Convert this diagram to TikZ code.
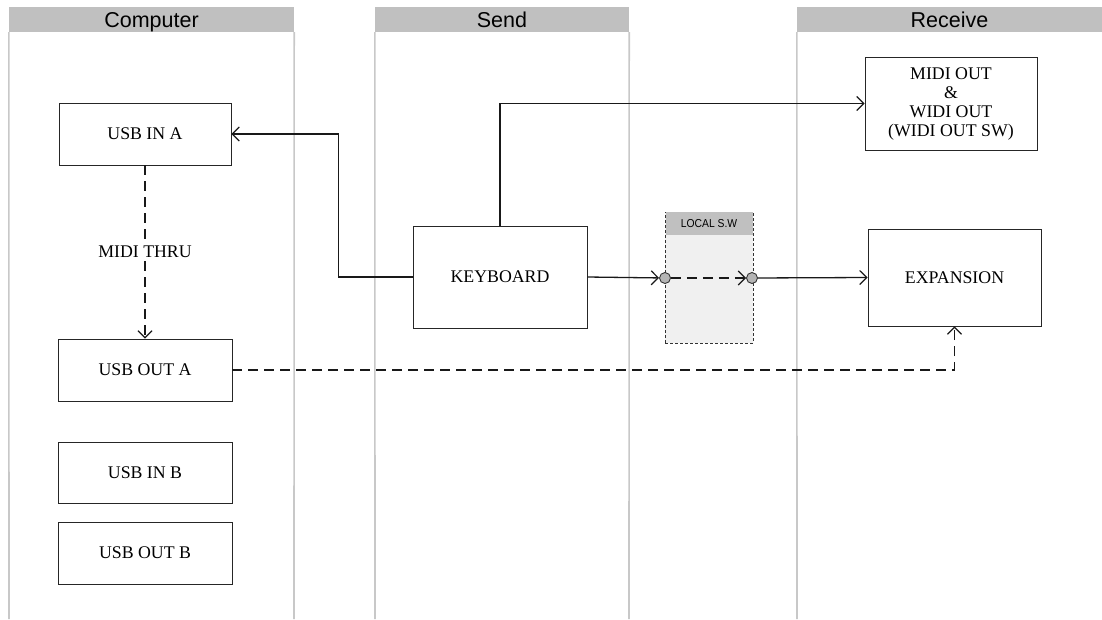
\documentclass[tikz,border=0pt]{standalone}
\usepackage{fontspec}
\setmainfont{Liberation Serif}
\newfontfamily\hdrfont{Liberation Sans}
\usetikzlibrary{arrows.meta}
\definecolor{lanegray}{HTML}{C8C8C8}
\definecolor{hdrgray}{HTML}{C0C0C0}
\definecolor{swfill}{HTML}{F0F0F0}
\definecolor{dotfill}{HTML}{B4B4B4}
\tikzset{
  lanehdr/.style={fill=hdrgray, draw=none, minimum height=25pt, inner sep=0pt,
    text height=16pt, text depth=1pt,
    font=\hdrfont\fontsize{21.5}{22}\selectfont, text=black},
  laneline/.style={draw=lanegray, line width=1.6pt},
  blockbox/.style={draw=black!85, line width=0.9pt, fill=white, inner sep=2pt,
    font=\fontsize{17.8}{19}\selectfont, align=center},
  conn/.style={draw=black!90, line width=1.3pt, -{Straight Barb[length=7pt,width=14pt,line width=1.2pt]}},
  dashline/.style={dash pattern=on 10pt off 6pt},
  dot/.style={circle, draw=black!80, fill=dotfill, line width=0.9pt, minimum size=11pt, inner sep=0pt},
}
\begin{document}
\begin{tikzpicture}[x=1pt,y=-1pt]
\useasboundingbox (0,0) rectangle (1102,619);
% lanes
\node[lanehdr, minimum width=285pt] (hcomp) at (151.5,19.5) {Computer};
\node[lanehdr, minimum width=254pt] (hsend) at (502,19.5) {Send};
\node[lanehdr, minimum width=305pt] (hrecv) at (949.5,19.5) {Receive};
\draw[laneline] (hcomp.south west) -- (9,619);
\draw[laneline] (hcomp.south east) -- (294,619);
\draw[laneline] (hsend.south west) -- (375,619);
\draw[laneline] (hsend.south east) -- (629,619);
\draw[laneline] (hrecv.south west) -- (797,619);
% local switch
\node[draw=black!80, line width=0.8pt, dash pattern=on 3pt off 2pt, fill=swfill,
  minimum width=88pt, minimum height=131pt, inner sep=0pt] (localsw) at (709,277.5) {};
\node[fill=hdrgray, minimum width=87pt, minimum height=23pt, inner sep=0pt,
  font=\hdrfont\fontsize{11.5}{12}\selectfont, anchor=north] (localhdr) at ([yshift=-0.5pt]localsw.north) {\scalebox{0.9}[1]{LOCAL S.W}};
% boxes
\node[blockbox, minimum width=172pt, minimum height=62pt] (usbina) at (145,134) {USB IN A};
\node[blockbox, minimum width=174pt, minimum height=62pt] (usbouta) at (145,370) {USB OUT A};
\node[blockbox, minimum width=174pt, minimum height=61pt] (usbinb) at (145,472.5) {USB IN B};
\node[blockbox, minimum width=174pt, minimum height=62pt] (usboutb) at (145,553) {USB OUT B};
\node[blockbox, minimum width=174pt, minimum height=102pt] (keyboard) at (500,277) {KEYBOARD};
\node[blockbox, minimum width=172pt, minimum height=93pt] (midiout) at (951,103.5) {MIDI OUT\\\&\\WIDI OUT\\(WIDI OUT SW)};
\node[blockbox, minimum width=173pt, minimum height=97pt] (expansion) at (954.5,277.5) {EXPANSION};
\node[dot] (c1) at (665,278) {};
\node[dot] (c2) at (752,278) {};
% connectors
\draw[conn] (keyboard.west) -- ++(-74,0) |- (usbina.east);
\draw[conn] (keyboard.north) |- (midiout.west);
\draw[conn] (keyboard.east) -- (c1);
\draw[conn, dashline] (c1) -- (c2);
\draw[conn] (c2) -- (expansion.west);
\draw[conn, dashline] (usbouta.east) -| (expansion.south);
\draw[conn, dashline] (usbina.south) -- node[fill=white, inner sep=3pt, font=\fontsize{17.8}{19}\selectfont] (thru) {MIDI THRU} (usbouta.north);
\end{tikzpicture}
\end{document}
